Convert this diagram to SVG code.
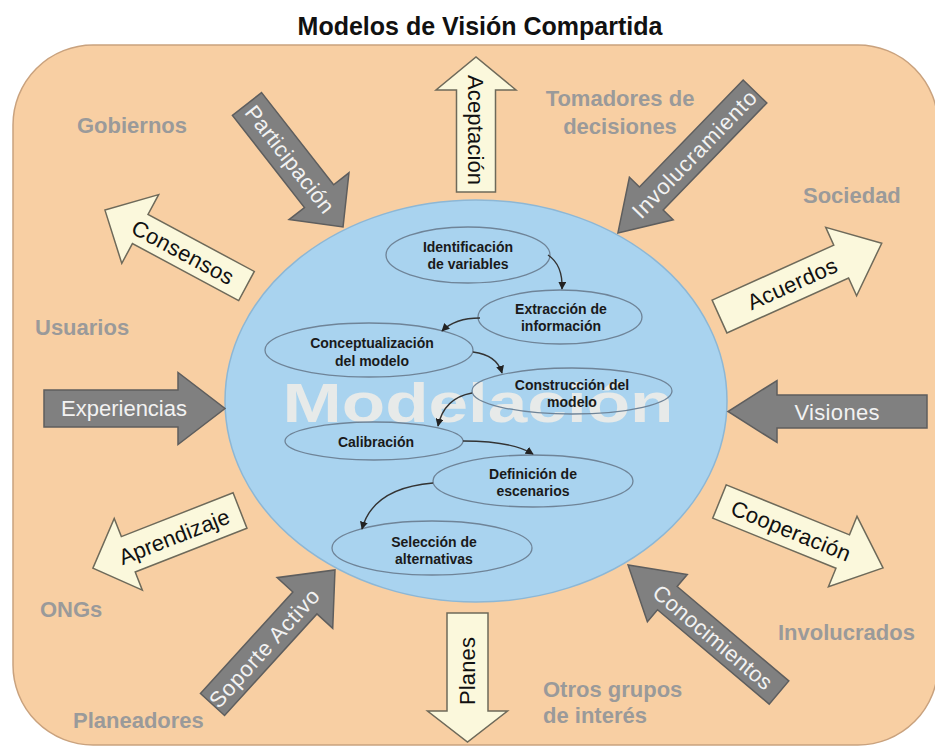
<svg xmlns="http://www.w3.org/2000/svg" width="935" height="748" viewBox="0 0 935 748">
<defs>
<style>
.bg{fill:#F8CFA3;stroke:#C9A27E;stroke-width:1.5}
.title{font-family:"Liberation Sans",Arial,sans-serif;font-weight:bold;font-size:25px;fill:#111}
.lbl{font-family:"Liberation Sans",Arial,sans-serif;font-weight:bold;font-size:22px;fill:#9A9A9A}
.big{fill:#A9D3EF;stroke:#8DB7D5;stroke-width:1.5}
.wm{font-family:"Liberation Sans",Arial,sans-serif;font-weight:bold;font-size:56px;fill:#F2EFE8;opacity:0.85}
.step{fill:none;stroke:#6F8498;stroke-width:1.3}
.st{font-family:"Liberation Sans",Arial,sans-serif;font-weight:bold;font-size:14px;fill:#1A1A1A;text-anchor:middle}
.dark{fill:#808080;stroke:#5E5E5E;stroke-width:1.5}
.light{fill:#FBF8DC;stroke:#6E6A5A;stroke-width:1.5}
.dt{font-family:"Liberation Sans",Arial,sans-serif;font-size:22px;fill:#F2F2F2;text-anchor:middle}
.lt{font-family:"Liberation Sans",Arial,sans-serif;font-size:22px;fill:#111;text-anchor:middle}
.con{fill:none;stroke:#333;stroke-width:1.4;marker-end:url(#ah)}
</style>
<marker id="ah" viewBox="0 0 10 10" refX="9" refY="5" markerWidth="8" markerHeight="8" markerUnits="userSpaceOnUse" orient="auto">
<path d="M0,0 L10,5 L0,10 z" fill="#222"/>
</marker>
</defs>

<rect class="bg" x="13" y="45" width="925" height="700" rx="80" ry="80"/>
<text class="title" x="480" y="35" text-anchor="middle">Modelos de Visión Compartida</text>

<g id="labels">
<text class="lbl" x="77" y="133">Gobiernos</text>
<text class="lbl" x="35" y="335">Usuarios</text>
<text class="lbl" x="620" y="106" text-anchor="middle">Tomadores de</text>
<text class="lbl" x="620" y="134" text-anchor="middle">decisiones</text>
<text class="lbl" x="803" y="203">Sociedad</text>
<text class="lbl" x="778" y="640">Involucrados</text>
<text class="lbl" x="543" y="697">Otros grupos</text>
<text class="lbl" x="543" y="723">de interés</text>
<text class="lbl" x="40" y="617">ONGs</text>
<text class="lbl" x="73" y="728">Planeadores</text>
</g>

<g id="modelacion">
<ellipse class="big" cx="476" cy="401" rx="251" ry="201"/>
<text class="wm" x="478" y="422" text-anchor="middle" textLength="391" lengthAdjust="spacingAndGlyphs">Modelación</text>
</g>

<g id="n1"><ellipse class="step" cx="468" cy="255" rx="82" ry="28"/><text class="st" x="468" y="252">Identificación</text><text class="st" x="468" y="269">de variables</text></g>
<g id="n2"><ellipse class="step" cx="560" cy="317" rx="82" ry="27"/><text class="st" x="561" y="314">Extracción de</text><text class="st" x="561" y="331">información</text></g>
<g id="n3"><ellipse class="step" cx="369" cy="350" rx="104" ry="27"/><text class="st" x="372" y="348">Conceptualización</text><text class="st" x="372" y="366">del modelo</text></g>
<g id="n4"><ellipse class="step" cx="572" cy="391" rx="100" ry="23"/><text class="st" x="572" y="390">Construcción del</text><text class="st" x="572" y="407">modelo</text></g>
<g id="n5"><ellipse class="step" cx="374" cy="441" rx="89" ry="19"/><text class="st" x="376" y="447">Calibración</text></g>
<g id="n6"><ellipse class="step" cx="533" cy="481" rx="100" ry="26"/><text class="st" x="533" y="479">Definición de</text><text class="st" x="533" y="496">escenarios</text></g>
<g id="n7"><ellipse class="step" cx="432" cy="548" rx="100" ry="27"/><text class="st" x="434" y="547">Selección de</text><text class="st" x="434" y="564">alternativas</text></g>

<g id="connectors">
<path class="con" d="M548,255 Q563,265 562,289"/>
<path class="con" d="M480,318 Q455,318 442,331"/>
<path class="con" d="M473,352 Q497,355 502,373"/>
<path class="con" d="M472,393 Q444,398 438,426"/>
<path class="con" d="M463,441 Q512,441 533,454"/>
<path class="con" d="M433,483 Q373,488 362,529"/>
</g>

<g id="a-experiencias"><polygon class="dark" transform="translate(44,408.5)" points="0,-18.5 134,-18.5 134,-36 181,0 134,36 134,18.5 0,18.5"/><text class="dt" x="124" y="416" textLength="126" lengthAdjust="spacing">Experiencias</text></g>
<g id="a-visiones"><polygon class="dark" transform="translate(927,411.5) rotate(180)" points="0,-16.5 150,-16.5 150,-31 199,0 150,31 150,16.5 0,16.5"/><text class="dt" x="837" y="420" textLength="85" lengthAdjust="spacing">Visiones</text></g>
<g id="a-aceptacion"><polygon class="light" transform="translate(476,192) rotate(-90)" points="0,-19.5 102,-19.5 102,-40 135,0 102,40 102,19.5 0,19.5"/><text class="lt" transform="translate(476,130) rotate(90)" y="8" textLength="110" lengthAdjust="spacing">Aceptación</text></g>
<g id="a-planes"><polygon class="light" transform="translate(467.5,613) rotate(90)" points="0,-20.5 98,-20.5 98,-40 129,0 98,40 98,20.5 0,20.5"/><text class="lt" transform="translate(467,671) rotate(-90)" y="8" textLength="68" lengthAdjust="spacing">Planes</text></g>
<g id="a-participacion"><polygon class="dark" transform="translate(247,104) rotate(52)" points="0,-18.5 117,-18.5 117,-38 156,0 117,38 117,18.5 0,18.5"/><text class="dt" transform="translate(290,159) rotate(52)" y="8" textLength="130" lengthAdjust="spacing">Participación</text></g>
<g id="a-involucramiento"><polygon class="dark" transform="translate(755,91.5) rotate(134.1)" points="0,-16.5 149,-16.5 149,-30.5 197,0 149,30.5 149,16.5 0,16.5"/><text class="dt" transform="translate(694,154) rotate(-45.9)" y="8" textLength="168" lengthAdjust="spacing">Involucramiento</text></g>
<g id="a-acuerdos"><polygon class="light" transform="translate(719.5,316.5) rotate(-24.3)" points="0,-18 133.5,-18 133.5,-37.5 178,0 133.5,37.5 133.5,18 0,18"/><text class="lt" transform="translate(792,283.5) rotate(-24.3)" y="8" textLength="96" lengthAdjust="spacing">Acuerdos</text></g>
<g id="a-consensos"><polygon class="light" transform="translate(246.5,286) rotate(-151.8)" points="0,-16.5 120.6,-16.5 120.6,-39 160.6,0 120.6,39 120.6,16.5 0,16.5"/><text class="lt" transform="translate(183,252) rotate(28.2)" y="8" textLength="112" lengthAdjust="spacing">Consensos</text></g>
<g id="a-aprendizaje"><polygon class="light" transform="translate(240,510.5) rotate(158.6)" points="0,-19 120,-19 120,-38.5 158,0 120,38.5 120,19 0,19"/><text class="lt" transform="translate(174,536.4) rotate(-21.4)" y="8" textLength="117" lengthAdjust="spacing">Aprendizaje</text></g>
<g id="a-soporte"><polygon class="dark" transform="translate(212.5,704.5) rotate(-47.7)" points="0,-16.3 137.3,-16.3 137.3,-37.6 182,0 137.3,37.6 137.3,16.3 0,16.3"/><text class="dt" transform="translate(264,648) rotate(-47.7)" y="8" textLength="152" lengthAdjust="spacing">Soporte Activo</text></g>
<g id="a-cooperacion"><polygon class="light" transform="translate(719.5,501.5) rotate(22.1)" points="0,-18 133,-18 133,-38 176.5,0 133,38 133,18 0,18"/><text class="lt" transform="translate(791,530.5) rotate(22.1)" y="8" textLength="127" lengthAdjust="spacing">Cooperación</text></g>
<g id="a-conocimientos"><polygon class="dark" transform="translate(779,692.5) rotate(-139.8)" points="0,-15.2 146.2,-15.2 146.2,-30.9 197.6,0 146.2,30.9 146.2,15.2 0,15.2"/><text class="dt" transform="translate(713,637) rotate(40.2)" y="8" textLength="149" lengthAdjust="spacing">Conocimientos</text></g>
</svg>
